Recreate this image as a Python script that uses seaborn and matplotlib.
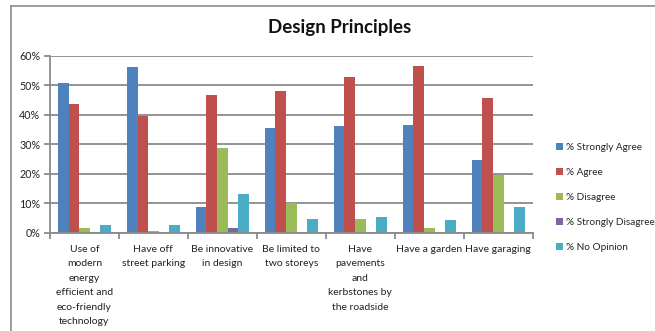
import numpy as np
import pandas as pd
import matplotlib
matplotlib.use("Agg")
import matplotlib.pyplot as plt
from matplotlib.ticker import PercentFormatter, FixedLocator
from matplotlib.lines import Line2D
from matplotlib.patches import Patch
import seaborn as sns

categories = [
    "Use of\nmodern\nenergy\nefficient and\neco-friendly\ntechnology",
    "Have off\nstreet parking",
    "Be innovative\nin design",
    "Be limited to\ntwo storeys",
    "Have\npavements\nand\nkerbstones by\nthe roadside",
    "Have a garden",
    "Have garaging",
]
series = ["% Strongly Agree", "% Agree", "% Disagree", "% Strongly Disagree", "% No Opinion"]
strongly_agree = [50.7, 56.2, 8.7, 35.5, 36.2, 36.5, 24.6]
agree = [43.6, 39.5, 46.7, 48.0, 52.8, 56.5, 45.6]
disagree = [1.6, 0.6, 28.7, 9.9, 4.6, 1.6, 19.5]
strongly_disagree = [0.3, 0.0, 1.6, 0.3, 0.3, 0.0, 0.3]
no_opinion = [2.6, 2.6, 13.1, 4.6, 5.3, 4.3, 8.7]
colors = ["#4F81BD", "#C0504D", "#9BBB59", "#8064A2", "#4BACC6"]

values = [strongly_agree, agree, disagree, strongly_disagree, no_opinion]
rows = []
for s, vals in zip(series, values):
    for c, v in zip(categories, vals):
        rows.append({"category": c, "series": s, "value": v / 100.0})
df = pd.DataFrame(rows)

sns.set_theme(style="white")
plt.rcParams["font.family"] = ["Lato", "DejaVu Sans"]

fig = plt.figure(figsize=(6.55, 3.31), dpi=100)
ax = fig.add_axes([50 / 655, 1 - 232.5 / 331, (532.7 - 50) / 655, (232.5 - 55.7) / 331])

sns.barplot(data=df, x="category", y="value", hue="series", order=categories,
            hue_order=series, palette=colors, saturation=1, width=0.77,
            ax=ax, legend=False, errorbar=None, linewidth=0)

grid_c = "#8a8a8a"
ax.set_ylim(0, 0.6)
ax.set_xlim(-0.5, len(categories) - 0.5)
ax.set_yticks(np.arange(0, 0.61, 0.1))
ax.yaxis.set_major_formatter(PercentFormatter(1.0, decimals=0))
ax.yaxis.grid(True, color=grid_c, linewidth=1.3)
ax.set_axisbelow(True)
ax.set_xlabel("")
ax.set_ylabel("")
for side in ["top", "right"]:
    ax.spines[side].set_visible(False)
for side in ["left", "bottom"]:
    ax.spines[side].set_color(grid_c)
    ax.spines[side].set_linewidth(1.3)

ax.tick_params(axis="y", which="major", length=4, width=1.3, color=grid_c,
               labelsize=7.7, pad=3, left=True, direction="out")
ax.tick_params(axis="x", which="major", length=0, labelsize=7.5, pad=9)
ax.xaxis.set_minor_locator(FixedLocator(np.arange(-0.5, len(categories), 1.0)))
ax.tick_params(axis="x", which="minor", length=4, width=1.3, color=grid_c,
               bottom=True, direction="out")

fig.text(0.518, 1 - 28 / 331, "Design Principles", ha="center", va="center",
         fontsize=13.5, fontweight="bold", color="#111111")

handles = [Patch(facecolor=c, edgecolor="none") for c in colors]
leg = fig.legend(handles, series, loc="upper left",
                 bbox_to_anchor=(552 / 655, 1 - 139 / 331), frameon=False,
                 fontsize=7.2, handlelength=0.65, handleheight=0.65,
                 handletextpad=0.35, labelspacing=1.6, borderaxespad=0)

# chart-area border (top and left visible)
fig.add_artist(Line2D([11 / 655, 1.0], [1 - 6 / 331, 1 - 6 / 331],
                      transform=fig.transFigure, color="#8c8c8c", linewidth=1.2))
fig.add_artist(Line2D([11 / 655, 11 / 655], [1 - 6 / 331, 0.0],
                      transform=fig.transFigure, color="#8c8c8c", linewidth=1.2))

fig.canvas.draw()
for lab in ax.get_xticklabels():
    lab.set_linespacing(1.78)
    lab.set_verticalalignment("top")
for lab in ax.get_yticklabels() + ax.get_xticklabels():
    lab.set_color("#222222")

fig.savefig("out.png", dpi=100)
